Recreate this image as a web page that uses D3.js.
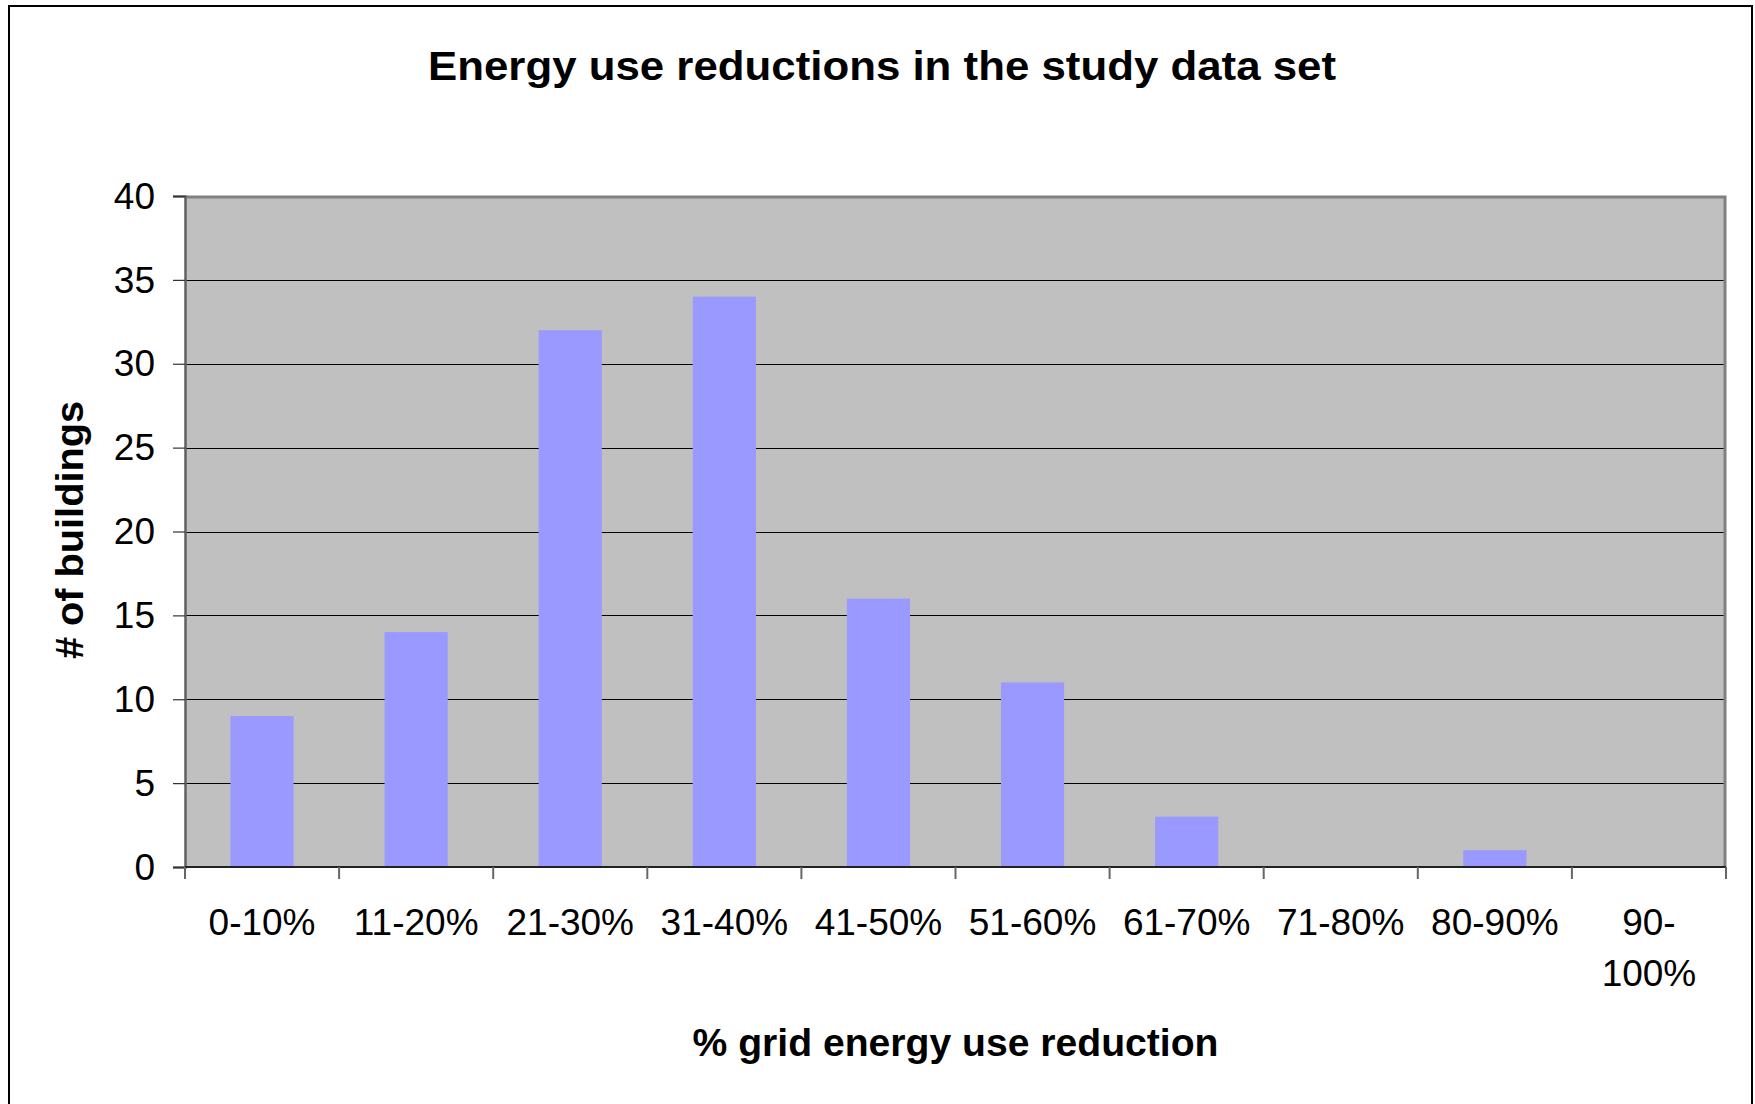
<!DOCTYPE html>
<html>
<head>
<meta charset="utf-8">
<script src="https://cdn.jsdelivr.net/npm/d3@7"></script>
<style>
  html, body { margin: 0; padding: 0; background: #fff; }
  svg { display: block; }
  text { font-family: "Liberation Sans", Arial, sans-serif; fill: #000; }
</style>
</head>
<body>
<script>
const categories = ["0-10%", "11-20%", "21-30%", "31-40%", "41-50%", "51-60%", "61-70%", "71-80%", "80-90%", "90-100%"];
const categoryLines = [["0-10%"], ["11-20%"], ["21-30%"], ["31-40%"], ["41-50%"], ["51-60%"], ["61-70%"], ["71-80%"], ["80-90%"], ["90-", "100%"]];
const buildings = [9, 14, 32, 34, 16, 11, 3, 0, 1, 0];
const yTicks = [0, 5, 10, 15, 20, 25, 30, 35, 40];
const titleText = "Energy use reductions in the study data set";
const xTitleText = "% grid energy use reduction";
const yTitleText = "# of buildings";

const W = 1755, H = 1104;
const plot = { left: 185, right: 1726, top: 196, bottom: 867 };

const svg = d3.select("body").append("svg").attr("width", W).attr("height", H);

// outer chart frame
svg.append("rect").attr("x", 9).attr("y", 6).attr("width", 1743).attr("height", H + 10)
  .attr("fill", "#fff").attr("stroke", "#000").attr("stroke-width", 2);

const x = d3.scaleBand().domain(categories).range([plot.left, plot.right])
  .paddingInner(0.59).paddingOuter(0.295);
const y = d3.scaleLinear().domain([0, 40]).range([plot.bottom, plot.top]);

// plot area background
svg.append("rect").attr("x", plot.left).attr("y", plot.top)
  .attr("width", plot.right - plot.left).attr("height", plot.bottom - plot.top)
  .attr("fill", "#C0C0C0");

// gridlines
svg.append("g").selectAll("line").data(yTicks.filter(d => d > 0 && d < 40)).join("line")
  .attr("x1", plot.left).attr("x2", plot.right)
  .attr("y1", d => Math.round(y(d)) + 0.5).attr("y2", d => Math.round(y(d)) + 0.5)
  .attr("stroke", "#000").attr("stroke-width", 1);

// plot border top & right
svg.append("path")
  .attr("d", `M${plot.left},${plot.top + 1}H${plot.right - 1}V${plot.bottom}`)
  .attr("fill", "none").attr("stroke", "#808080").attr("stroke-width", 3);

// bars
svg.append("g").selectAll("rect").data(buildings).join("rect")
  .attr("x", (d, i) => x(categories[i]))
  .attr("width", x.bandwidth())
  .attr("y", d => y(d))
  .attr("height", d => y(0) - y(d))
  .attr("fill", "#9999FF");

// y axis
const yAxis = d3.axisLeft(y).tickValues(yTicks).tickSize(12).tickPadding(18).tickFormat(d3.format("d"));
const gy = svg.append("g").attr("transform", `translate(${plot.left},0)`).call(yAxis);
gy.select(".domain").attr("stroke", "#606060").attr("stroke-width", 2.5);
gy.selectAll(".tick line").attr("stroke", "#333").attr("stroke-width", 1.2);
gy.selectAll(".tick text").attr("font-size", 37).attr("dy", "0.33em")
  .attr("font-family", "Liberation Sans, Arial, sans-serif").attr("fill", "#000");

// x axis baseline
svg.append("line").attr("x1", plot.left).attr("x2", plot.right)
  .attr("y1", plot.bottom).attr("y2", plot.bottom)
  .attr("stroke", "#222").attr("stroke-width", 2);

// x ticks between categories
const boundaries = d3.range(categories.length + 1).map(i => plot.left + i * x.step());
svg.append("g").selectAll("line").data(boundaries).join("line")
  .attr("x1", d => d).attr("x2", d => d)
  .attr("y1", plot.bottom).attr("y2", plot.bottom + 12)
  .attr("stroke", "#666").attr("stroke-width", 2);

// x labels
const xl = svg.append("g").selectAll("text").data(categories).join("text")
  .attr("x", d => x(d) + x.bandwidth() / 2)
  .attr("y", 935)
  .attr("text-anchor", "middle")
  .attr("font-size", 37);
xl.each(function(d, i) {
  const t = d3.select(this);
  categoryLines[i].forEach((line, j) => {
    t.append("tspan").attr("x", x(d) + x.bandwidth() / 2).attr("dy", j === 0 ? 0 : 51).text(line);
  });
});

// title
svg.append("text").attr("x", 882).attr("y", 80).attr("text-anchor", "middle")
  .attr("font-size", 40).attr("font-weight", "bold")
  .attr("textLength", 908).attr("lengthAdjust", "spacingAndGlyphs")
  .text(titleText);

// x axis title
svg.append("text").attr("x", (plot.left + plot.right) / 2).attr("y", 1056).attr("text-anchor", "middle")
  .attr("font-size", 38).attr("font-weight", "bold")
  .attr("textLength", 526).attr("lengthAdjust", "spacingAndGlyphs")
  .text(xTitleText);

// y axis title
svg.append("text").attr("transform", `translate(83,530) rotate(-90)`)
  .attr("text-anchor", "middle")
  .attr("font-size", 38).attr("font-weight", "bold")
  .attr("textLength", 258).attr("lengthAdjust", "spacingAndGlyphs")
  .text(yTitleText);
</script>
</body>
</html>
